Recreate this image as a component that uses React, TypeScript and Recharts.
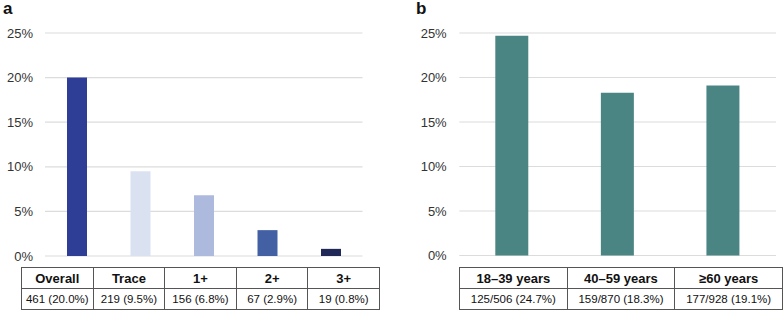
import { BarChart, Bar, XAxis, YAxis, CartesianGrid, Cell } from 'recharts';

// panel a: by grade
const gradeCategories = ['Overall', 'Trace', '1+', '2+', '3+'];
const gradeValues = [20.0, 9.5, 6.8, 2.9, 0.8];
const gradeCounts = ['461 (20.0%)', '219 (9.5%)', '156 (6.8%)', '67 (2.9%)', '19 (0.8%)'];
const gradeColors = ['#2e3e97', '#dae2f2', '#aeb9de', '#4460a4', '#1f2857'];

// panel b: by age group
const ageCategories = ['18–39 years', '40–59 years', '≥60 years'];
const ageValues = [24.7, 18.3, 19.1];
const ageCounts = ['125/506 (24.7%)', '159/870 (18.3%)', '177/928 (19.1%)'];

const yTicks = [0, 5, 10, 15, 20, 25];

const FONT = '"Liberation Sans", Arial, sans-serif';

const gradeData = gradeCategories.map((name, i) => ({ name, value: gradeValues[i] }));
const ageData = ageCategories.map((name, i) => ({ name, value: ageValues[i] }));

function CountTable({ heads, counts }: { heads: string[]; counts: string[] }) {
  const cell = {
    border: '1px solid #555',
    textAlign: 'center' as const,
    padding: 0,
    height: 20,
    color: '#111',
    whiteSpace: 'nowrap' as const,
  };
  return (
    <table
      style={{
        borderCollapse: 'collapse',
        tableLayout: 'fixed',
        width: '100%',
        fontFamily: FONT,
        border: '1.5px solid #444',
      }}
    >
      <tbody>
        <tr>
          {heads.map((h) => (
            <td key={h} style={{ ...cell, fontWeight: 'bold', fontSize: 13 }}>
              {h}
            </td>
          ))}
        </tr>
        <tr>
          {counts.map((c) => (
            <td key={c} style={{ ...cell, fontSize: 11.5 }}>
              {c}
            </td>
          ))}
        </tr>
      </tbody>
    </table>
  );
}

const tickStyle = { fontSize: 13, fill: '#333', fontFamily: FONT };

export default function App() {
  return (
    <div
      style={{
        position: 'absolute',
        left: 0,
        top: 0,
        width: 784,
        height: 311,
        background: '#fff',
        fontFamily: FONT,
      }}
    >
      {/* panel a */}
      <div style={{ position: 'absolute', left: 3, top: -1, fontSize: 17, fontWeight: 'bold', color: '#111' }}>a</div>
      <div style={{ position: 'absolute', left: 0, top: 0 }}>
        <BarChart
          width={380}
          height={311}
          data={gradeData}
          margin={{ top: 33, right: 17.5, bottom: 55, left: 0 }}
        >
          <CartesianGrid vertical={false} stroke="#dcdcdc" strokeWidth={1.2} />
          <XAxis dataKey="name" tick={false} tickLine={false} height={0} axisLine={{ stroke: '#222', strokeWidth: 1.5 }} />
          <YAxis
            width={45}
            domain={[0, 25]}
            ticks={yTicks}
            tickFormatter={(v) => `${v}%`}
            axisLine={false}
            tickLine={false}
            tickSize={0}
            tickMargin={12}
            tick={tickStyle}
          />
          <Bar dataKey="value" barSize={20} isAnimationActive={false}>
            {gradeData.map((d, i) => (
              <Cell key={d.name} fill={gradeColors[i]} />
            ))}
          </Bar>
        </BarChart>
      </div>
      <div style={{ position: 'absolute', left: 21, top: 267, width: 359 }}>
        <CountTable heads={gradeCategories} counts={gradeCounts} />
      </div>

      {/* panel b */}
      <div style={{ position: 'absolute', left: 416, top: -1, fontSize: 17, fontWeight: 'bold', color: '#111' }}>b</div>
      <div style={{ position: 'absolute', left: 400, top: 0 }}>
        <BarChart
          width={384}
          height={311}
          data={ageData}
          margin={{ top: 33, right: 8, bottom: 55.5, left: 0 }}
        >
          <CartesianGrid vertical={false} stroke="#dcdcdc" strokeWidth={1.2} />
          <XAxis dataKey="name" tick={false} tickLine={false} height={0} axisLine={{ stroke: '#222', strokeWidth: 1.5 }} />
          <YAxis
            width={59.3}
            domain={[0, 25]}
            ticks={yTicks}
            tickFormatter={(v) => `${v}%`}
            axisLine={false}
            tickLine={false}
            tickSize={0}
            tickMargin={12.6}
            tick={tickStyle}
          />
          <Bar dataKey="value" barSize={33} fill="#4a8584" isAnimationActive={false} />
        </BarChart>
      </div>
      <div style={{ position: 'absolute', left: 459, top: 267, width: 324 }}>
        <CountTable heads={ageCategories} counts={ageCounts} />
      </div>
    </div>
  );
}
